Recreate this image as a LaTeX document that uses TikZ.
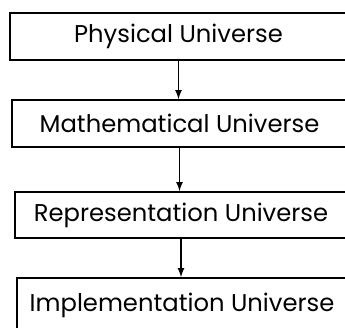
\documentclass[tikz,border=0pt]{standalone}
\usepackage{fontspec}
\setmainfont{Poppins}
\usetikzlibrary{arrows}

\tikzset{
universe/.style={draw,line width=0.9pt,
minimum width=6.74cm,
minimum height=0.94cm,
font=\fontsize{13.8}{16}\selectfont}
}

\begin{document}
\begin{tikzpicture}[scale=1]

\useasboundingbox (0,0) rectangle (6.9,-6.56);

% Physical
\node[universe]
(P)
at (3.57,-0.73)
{Physical Universe};

% Mathematical
\node[universe,minimum width=6.7cm]
(M)
at (3.59,-2.47)
{Mathematical Universe};

% Representation
\node[universe,minimum width=6.64cm,
minimum height=0.92cm]
(R)
at (3.62,-4.3)
{Representation Universe};

% Implementation
\node[universe,minimum width=6.6cm,
minimum height=1.08cm]
(I)
at (3.64,-6.1)
{Implementation Universe};

% Arrows
\draw[-latex,line width=0.8pt] (P.south) -- (M.north -| P.south);
\draw[-latex,line width=0.8pt] (M.south) -- (R.north -| M.south);
\draw[-latex,line width=0.8pt] (R.south) -- (I.north -| R.south);

\end{tikzpicture}
\end{document}
